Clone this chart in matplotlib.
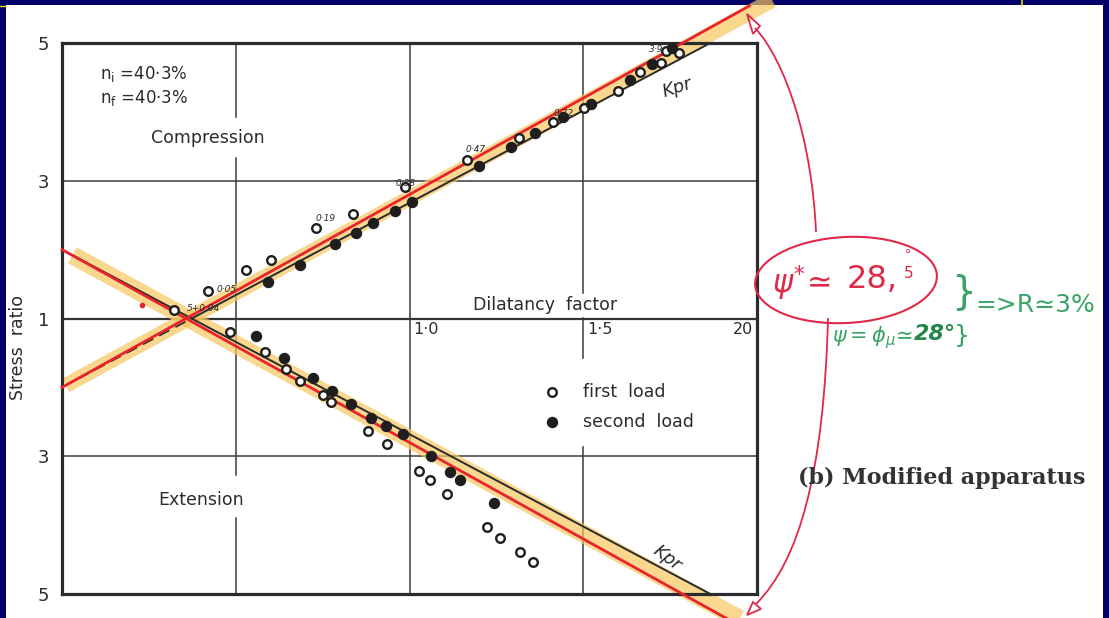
import numpy as np
import matplotlib
matplotlib.use("Agg")
import matplotlib.pyplot as plt
from matplotlib.patches import Ellipse, Polygon, Rectangle
from matplotlib.path import Path
from matplotlib.patches import PathPatch

# ---- data: dilatancy factor D and stress ratio ----
comp_first_D = [0.322, 0.420, 0.529, 0.601, 0.731, 0.837, 0.987, 1.165, 1.315, 1.413,
                1.502, 1.600, 1.663, 1.724, 1.738, 1.776]
comp_first_R = [1.12, 1.40, 1.70, 1.85, 2.31, 2.52, 2.91, 3.30, 3.62, 3.85,
                4.06, 4.30, 4.58, 4.71, 4.88, 4.85]
comp_second_D = [0.593, 0.685, 0.786, 0.846, 0.895, 0.958, 1.007, 1.200, 1.292, 1.361,
                 1.442, 1.522, 1.635, 1.698, 1.755]
comp_second_R = [1.53, 1.78, 2.08, 2.24, 2.39, 2.56, 2.69, 3.21, 3.49, 3.69,
                 3.93, 4.11, 4.46, 4.70, 4.93]
ext_first_D = [0.483, 0.584, 0.645, 0.685, 0.751, 0.774, 0.881, 0.935, 1.027, 1.059,
               1.108, 1.223, 1.260, 1.318, 1.355]
ext_first_R = [1.20, 1.49, 1.73, 1.91, 2.11, 2.21, 2.63, 2.82, 3.21, 3.35,
               3.55, 4.03, 4.19, 4.39, 4.54]
ext_second_D = [0.558, 0.639, 0.722, 0.777, 0.832, 0.889, 0.932, 0.981, 1.062, 1.117,
                1.145, 1.243]
ext_second_R = [1.25, 1.57, 1.86, 2.05, 2.24, 2.44, 2.56, 2.68, 3.00, 3.23,
                3.35, 3.68]

# strain labels written beside some points
point_notes_D = [0.36, 0.445, 0.73, 0.96, 1.16, 1.415, 1.69]
point_notes_R = [1.15, 1.42, 2.45, 2.96, 3.45, 3.97, 4.9]
point_notes_txt = ["5+0·04", "0·05", "0·19", "0·38", "0·47", "0·72", "3·9"]

K_pr = 2.68          # Rowe's Kpr line  R = Kpr * D
K_fit = 2.80         # refitted line
K_band = 2.75        # highlighter band

y_ticks = [4, 2, 0, -2, -4]
y_tick_labels = ["5", "3", "1", "3", "5"]
x_tick_pos = [1.0, 1.5, 2.0]
x_tick_labels = ["1·0", "1·5", "20"]

legend_D = 1.41
legend_R = [2.07, 2.5]

INK = "#2b2b2b"
RED = "#e8232b"
PINK = "#e0284a"
GREEN = "#3aa465"
DKGREEN = "#24864a"
NAVY = "#020066"
BAND = "#f7c660"


def comp(r):
    return np.asarray(r) - 1.0


def ext(r):
    return 1.0 - np.asarray(r)


fig = plt.figure(figsize=(11.09, 6.18), dpi=100)
fig.patch.set_facecolor("white")

# frame strips
bg = fig.add_axes([0, 0, 1, 1], zorder=0)
bg.set_xlim(0, 1109)
bg.set_ylim(618, 0)
bg.axis("off")
bg.add_patch(Rectangle((0, 0), 1109, 5, color=NAVY, lw=0))
bg.add_patch(Rectangle((0, 0), 6, 618, color=NAVY, lw=0))
bg.add_patch(Rectangle((1103, 0), 6, 618, color=NAVY, lw=0))
bg.plot([0, 6], [5.5, 5.5], color="#e8e000", lw=1)
bg.plot([1022, 1022], [0, 5], color="#e8e000", lw=1.2)

# ---- main chart ----
ax = fig.add_axes([62 / 1109, 24 / 618, 695 / 1109, 551 / 618], zorder=1)
ax.set_xlim(0, 2)
ax.set_ylim(-4, 4)
ax.patch.set_alpha(0)
for s in ax.spines.values():
    s.set_linewidth(2.3)
    s.set_color(INK)
ax.set_yticks(y_ticks, y_tick_labels)
ax.set_xticks([])
ax.tick_params(axis="y", length=0, pad=9, labelsize=13, labelcolor=INK)

# grid (with gaps around the lettering)
gkw = dict(color="#3a3a3a", lw=1.1, zorder=1)
ax.axhline(2, **gkw)
ax.axhline(-2, **gkw)
ax.axhline(0, color="#333333", lw=1.6, zorder=1)
for lo, hi in [(0.866, 1.0), (0.216, 0.791), (0.0, 0.138)]:
    ax.axvline(0.5, lo, hi, **gkw)
ax.axvline(1.0, **gkw)
for lo, hi in [(0.546, 1.0), (0.428, 0.501), (0.0, 0.267)]:
    ax.axvline(1.5, lo, hi, **gkw)

# highlighter bands
Dc = np.array([0.01, 5.62 / K_band])
ax.plot(Dc, K_band * Dc - 1, color=BAND, lw=11, alpha=0.7, solid_capstyle="butt",
        clip_on=False, zorder=2)
De = np.array([0.03, 5.38 / K_band])
ax.plot(De, 1 - K_band * De, color=BAND, lw=13, alpha=0.7, solid_capstyle="butt",
        clip_on=False, zorder=2)

# Kpr lines
D1 = 1.0 / K_pr
D5 = 5.0 / K_pr
ax.plot([0, D1], [K_pr * 0 - 1, K_pr * D1 - 1], color=INK, lw=1.2, ls=(0, (7, 4)), zorder=3)
ax.plot([D1, D5], [K_pr * D1 - 1, K_pr * D5 - 1], color=INK, lw=1.4, zorder=3)
ax.plot([0, D5], [1 - K_pr * 0, 1 - K_pr * D5], color=INK, lw=1.4, zorder=3)

# refitted lines
Dr = np.array([0.0, 5.54 / K_fit])
ax.plot(Dr, K_fit * Dr - 1, color=RED, lw=2.0, clip_on=False, zorder=4)
Dr2 = np.array([0.0, 5.36 / K_fit])
ax.plot(Dr2, 1 - K_fit * Dr2, color=RED, lw=2.0, clip_on=False, zorder=4)
ax.plot([0.23], [0.19], "o", color=RED, ms=3, zorder=4)

# measured points
okw = dict(ls="none", marker="o", ms=6.2, mfc="white", mec="#1e1e1e", mew=1.7, zorder=5,
           clip_on=False)
fkw = dict(ls="none", marker="o", ms=7.2, mfc="#1e1e1e", mec="#1e1e1e", zorder=5,
           clip_on=False)
ax.plot(comp_first_D, comp(comp_first_R), **okw)
ax.plot(comp_second_D, comp(comp_second_R), **fkw)
ax.plot(ext_first_D, ext(ext_first_R), **okw)
ax.plot(ext_second_D, ext(ext_second_R), **fkw)

for d, r, t in zip(point_notes_D, point_notes_R, point_notes_txt):
    ax.text(d, comp([r])[0], t, fontsize=6.5, style="italic", color=INK,
            ha="left", va="center", zorder=6)

# legend
ax.plot([legend_D], [ext([legend_R[0]])[0]], **okw)
ax.plot([legend_D], [ext([legend_R[1]])[0]], **fkw)
ax.text(legend_D + 0.09, ext([legend_R[0]])[0], "first  load", fontsize=12.5, color=INK,
        va="center")
ax.text(legend_D + 0.09, ext([legend_R[1]])[0], "second  load", fontsize=12.5, color=INK,
        va="center")

# lettering
ax.text(0.11, 3.55, r"n$_\mathregular{i}$ =40·3%", fontsize=12, color=INK, va="center")
ax.text(0.11, 3.2, r"n$_\mathregular{f}$ =40·3%", fontsize=12, color=INK, va="center")
ax.text(0.42, 2.62, "Compression", fontsize=12.5, color=INK, ha="center", va="center")
ax.text(0.40, -2.64, "Extension", fontsize=12.5, color=INK, ha="center", va="center")
ax.text(1.39, 0.19, "Dilatancy  factor", fontsize=12.5, color=INK, ha="center", va="center")
for xp, lab in zip(x_tick_pos, x_tick_labels):
    if xp < 2.0:
        ax.text(xp + 0.012, -0.05, lab, fontsize=11.5, color=INK, ha="left", va="top")
    else:
        ax.text(xp - 0.01, -0.05, lab, fontsize=11.5, color=INK, ha="right", va="top")
ax.text(1.77, 3.35, "Kpr", fontsize=13, style="italic", color=INK, rotation=18,
        ha="center", va="center", zorder=6)
ax.text(1.74, -3.47, "Kpr", fontsize=13, style="italic", color=INK, rotation=-37,
        ha="center", va="center", zorder=6)

fig.text(18 / 1109, 1 - 347 / 618, "Stress  ratio", rotation=90, fontsize=12.5,
         color=INK, ha="center", va="center")

# ---- handwritten notes on the right ----
ov = fig.add_axes([0, 0, 1, 1], zorder=3)
ov.set_xlim(0, 1109)
ov.set_ylim(618, 0)
ov.axis("off")
ov.patch.set_alpha(0)

ov.add_patch(Ellipse((846, 280), 182, 86, angle=-3, fill=False, ec=PINK, lw=1.5))
ov.text(772, 283, r"$\psi^{*}\!\simeq$", fontsize=22, color=PINK, ha="left", va="center")
ov.text(847, 279, "28,", fontsize=23, color=PINK, ha="left", va="center")
ov.text(908, 255, "°", fontsize=9, color=PINK, ha="center", va="center")
ov.text(909, 274, "5", fontsize=11, color=PINK, ha="center", va="center")

# arrows from the ellipse to the ends of the red line
up = Path([(816, 232), (812, 140), (785, 60), (755, 28)],
          [Path.MOVETO, Path.CURVE4, Path.CURVE4, Path.CURVE4])
ov.add_patch(PathPatch(up, fill=False, ec=PINK, lw=1.3))
ov.add_patch(Polygon([(747, 14), (753, 34), (760, 26)], closed=True, fill=False,
                     ec=PINK, lw=1.3))
down = Path([(828, 318), (824, 470), (800, 560), (756, 604)],
            [Path.MOVETO, Path.CURVE4, Path.CURVE4, Path.CURVE4])
ov.add_patch(PathPatch(down, fill=False, ec=PINK, lw=1.3))
ov.add_patch(Polygon([(747, 615), (753, 602), (761, 609)], closed=True, fill=False,
                     ec=PINK, lw=1.3))

# green remarks
ov.text(964, 292, "}", fontsize=28, color=GREEN, ha="center", va="center")
ov.text(1035, 305, "=>R≃3%", fontsize=18, color=GREEN, ha="center", va="center")
ov.text(832, 338, r"$\psi=\phi_{\mu}\!\simeq$", fontsize=15, color=GREEN, ha="left",
        va="center")
ov.text(914, 334, "28°", fontsize=16, color=DKGREEN, ha="left", va="center",
        weight="bold", style="italic")
ov.text(962, 336, "}", fontsize=18, color=GREEN, ha="center", va="center")

ov.text(942, 478, "(b) Modified apparatus", fontsize=16, weight="bold",
        family="DejaVu Serif", color="#333333", ha="center", va="center")

fig.savefig("out.png", dpi=100)
